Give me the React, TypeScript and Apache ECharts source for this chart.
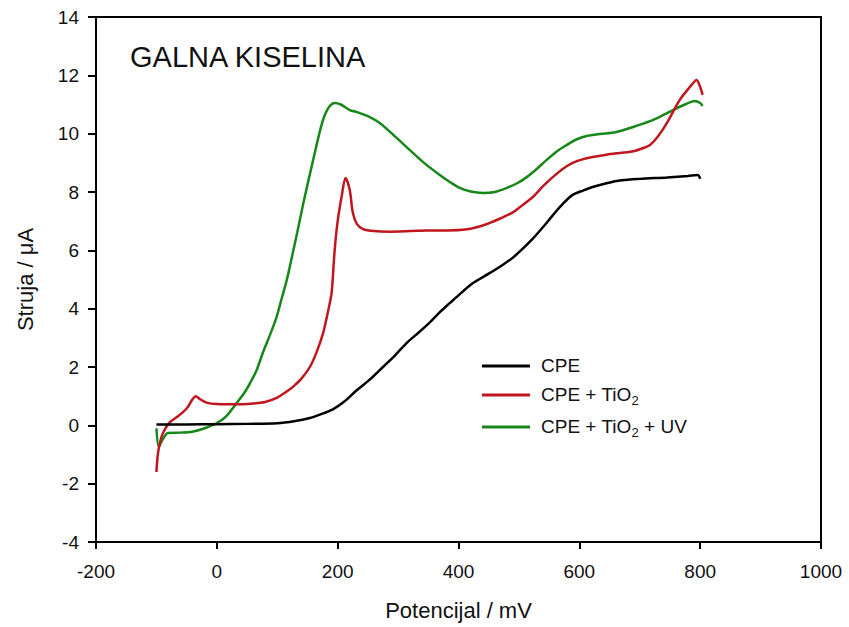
import React, { useEffect, useRef } from "react";
import * as echarts from "echarts";

const xTicks = [-200, 0, 200, 400, 600, 800, 1000];
const yTicks = [-4, -2, 0, 2, 4, 6, 8, 10, 12, 14];
const seriesNames = ["CPE", "CPE + TiO2", "CPE + TiO2 + UV"];

const cpePotential = [-100, -50, 0, 50, 100, 130, 154, 175, 192, 210, 232, 255, 275, 295, 314, 335, 353, 370, 386, 405, 424, 450, 473, 490, 506, 523, 540, 556, 573, 589, 606, 622, 645, 670, 700, 745, 780, 796, 800];
const cpeCurrent = [0.03, 0.03, 0.04, 0.05, 0.07, 0.15, 0.25, 0.4, 0.55, 0.8, 1.21, 1.6, 2.0, 2.4, 2.82, 3.2, 3.54, 3.9, 4.2, 4.55, 4.88, 5.2, 5.5, 5.75, 6.05, 6.4, 6.8, 7.2, 7.6, 7.9, 8.05, 8.17, 8.3, 8.4, 8.45, 8.5, 8.55, 8.58, 8.45];

const tioPotential = [-100, -97, -90, -78, -65, -56, -48, -40, -35, -28, -17, 0, 30, 60, 80, 99, 115, 126, 140, 154, 165, 176, 185, 190, 195, 200, 207, 213, 220, 225, 232, 242, 260, 286, 320, 347, 380, 414, 440, 452, 470, 490, 506, 523, 540, 556, 573, 589, 605, 622, 645, 667, 690, 705, 717, 730, 745, 766, 785, 794, 800, 804];
const tioCurrent = [-1.6, -0.9, -0.3, 0.1, 0.3, 0.45, 0.63, 0.9, 1.0, 0.9, 0.78, 0.73, 0.72, 0.75, 0.8, 0.94, 1.15, 1.32, 1.6, 2.0, 2.5, 3.17, 4.0, 4.54, 6.0, 7.0, 7.9, 8.48, 8.07, 7.3, 6.9, 6.73, 6.66, 6.64, 6.66, 6.68, 6.68, 6.72, 6.85, 6.94, 7.1, 7.3, 7.55, 7.83, 8.2, 8.51, 8.8, 9.0, 9.12, 9.2, 9.28, 9.34, 9.4, 9.5, 9.61, 9.9, 10.37, 11.15, 11.65, 11.84, 11.6, 11.33];

const uvPotential = [-100, -96, -90, -81, -60, -41, -20, 0, 15, 33, 45, 55, 66, 76, 88, 99, 108, 116, 124, 133, 143, 155, 165, 172, 178, 186, 195, 205, 220, 232, 250, 270, 290, 314, 340, 369, 385, 402, 420, 440, 460, 480, 497, 513, 530, 546, 562, 579, 595, 612, 634, 660, 689, 717, 740, 755, 775, 791, 800, 804];
const uvCurrent = [-0.1, -0.74, -0.5, -0.26, -0.25, -0.22, -0.1, 0.08, 0.3, 0.77, 1.1, 1.45, 1.9, 2.48, 3.1, 3.72, 4.4, 5.0, 5.75, 6.6, 7.6, 8.7, 9.6, 10.2, 10.6, 10.92, 11.05, 11.0, 10.81, 10.74, 10.6, 10.36, 10.0, 9.54, 9.05, 8.58, 8.35, 8.14, 8.02, 7.97, 8.0, 8.14, 8.3, 8.51, 8.8, 9.1, 9.38, 9.61, 9.8, 9.92, 9.99, 10.05, 10.23, 10.43, 10.65, 10.81, 11.0, 11.12, 11.05, 10.95];

const colors = ["#000000", "#c0161d", "#16881a"];
const FONT = "'Liberation Sans', Arial, Helvetica, sans-serif";

const zip = (xs: number[], ys: number[]) => xs.map((x, i) => [x, ys[i]]);

export default function App() {
  const ref = useRef<HTMLDivElement>(null);
  useEffect(() => {
    document.body.style.margin = "0";
    if (!ref.current) return;
    const chart = echarts.init(ref.current, undefined, { renderer: "svg" });
    const data = [zip(cpePotential, cpeCurrent), zip(tioPotential, tioCurrent), zip(uvPotential, uvCurrent)];
    chart.setOption({
      animation: false,
      textStyle: { fontFamily: FONT },
      title: {
        text: "GALNA KISELINA",
        left: 125,
        top: 37,
        textStyle: { fontSize: 29, fontWeight: "normal", color: "#111", fontFamily: FONT },
      },
      grid: { left: 96, right: 28, top: 17, bottom: 85, show: true, borderColor: "#000", borderWidth: 2, backgroundColor: "transparent" },
      legend: {
        orient: "vertical",
        left: 482,
        top: 356,
        padding: 0,
        itemWidth: 48,
        itemHeight: 3,
        itemGap: 10,
        icon: "rect",
        data: seriesNames,
        formatter: (name: string) => {
          if (name === "CPE") return "{g|}{b|CPE}";
          if (name === "CPE + TiO2") return "{g|}{b|CPE + TiO}{s|2}";
          return "{g|}{b|CPE + TiO}{s|2}{b| + UV}";
        },
        textStyle: {
          fontFamily: FONT,
          rich: {
            g: { width: 6 },
            b: { fontSize: 19, color: "#111", fontFamily: FONT, verticalAlign: "top", lineHeight: 20 },
            s: { fontSize: 13, color: "#111", fontFamily: FONT, verticalAlign: "top", lineHeight: 13, padding: [9, 0, 0, 0] },
          },
        },
      },
      xAxis: {
        type: "value",
        min: xTicks[0],
        max: xTicks[xTicks.length - 1],
        interval: 200,
        name: "Potencijal / mV",
        nameLocation: "middle",
        nameGap: 57,
        nameTextStyle: { fontSize: 22, color: "#111", fontFamily: FONT },
        axisLine: { onZero: false, lineStyle: { color: "#000", width: 2 } },
        axisTick: { show: true, length: 7, lineStyle: { color: "#000", width: 2 } },
        axisLabel: { fontSize: 19, color: "#111", margin: 20, fontFamily: FONT, formatter: (v: number) => String(v) },
        splitLine: { show: false },
      },
      yAxis: {
        type: "value",
        min: yTicks[0],
        max: yTicks[yTicks.length - 1],
        interval: 2,
        name: "Struja / μA",
        nameLocation: "middle",
        nameGap: 60,
        nameTextStyle: { fontSize: 22, color: "#111", fontFamily: FONT },
        axisLine: { onZero: false, lineStyle: { color: "#000", width: 2 } },
        axisTick: { show: true, length: 8, lineStyle: { color: "#000", width: 2 } },
        axisLabel: { fontSize: 19, color: "#111", margin: 17, fontFamily: FONT, formatter: (v: number) => String(v) },
        splitLine: { show: false },
      },
      series: seriesNames.map((name, i) => ({
        name,
        type: "line",
        data: data[i],
        showSymbol: false,
        smooth: 0.3,
        lineStyle: { color: colors[i], width: 2.5 },
        itemStyle: { color: colors[i] },
        z: 3 - i,
      })),
    });
    return () => chart.dispose();
  }, []);
  return <div ref={ref} style={{ width: 849, height: 627 }} />;
}
